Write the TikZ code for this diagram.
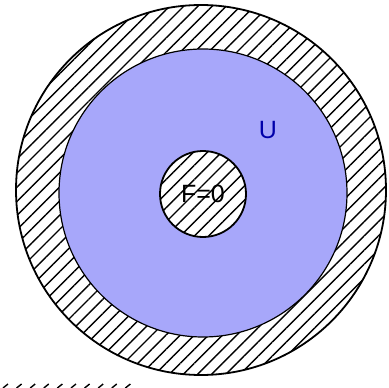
\documentclass[tikz,border=0pt]{standalone}
\usepackage{fontspec}
\setmainfont{Liberation Sans}
\usetikzlibrary{patterns.meta}
\definecolor{regionblue}{RGB}{167,167,250}
\definecolor{labelblue}{RGB}{0,0,170}

\begin{document}
\begin{tikzpicture}[x=1pt, y=-1pt,
    hatched/.style={circle, draw=black, line width=1.8pt, inner sep=0pt, preaction={fill=white},
        pattern={Lines[angle=45, distance=10pt, line width=1.4pt]}},
    region/.style={circle, draw=black, line width=1.2pt, inner sep=0pt, fill=regionblue},
    font=\fontsize{25}{30}\selectfont]
\useasboundingbox (0,0) rectangle (389,388);
\node[hatched, minimum size=370pt] (outer) at (201,190) {};
\node[region, minimum size=288pt] (domain) at (203,193) {};
\node[hatched, minimum size=86pt] (hole) at (203,194) {};
\node (zero) at (hole.center) {F=0};
\node[text=labelblue] (ulabel) at (268,130) {U};
% clipped strip of hatching at the bottom
\foreach \i in {0,...,9}
    \draw[line width=1.4pt] (3+13.6*\i,388) -- (8+13.6*\i,384);
\end{tikzpicture}
\end{document}
